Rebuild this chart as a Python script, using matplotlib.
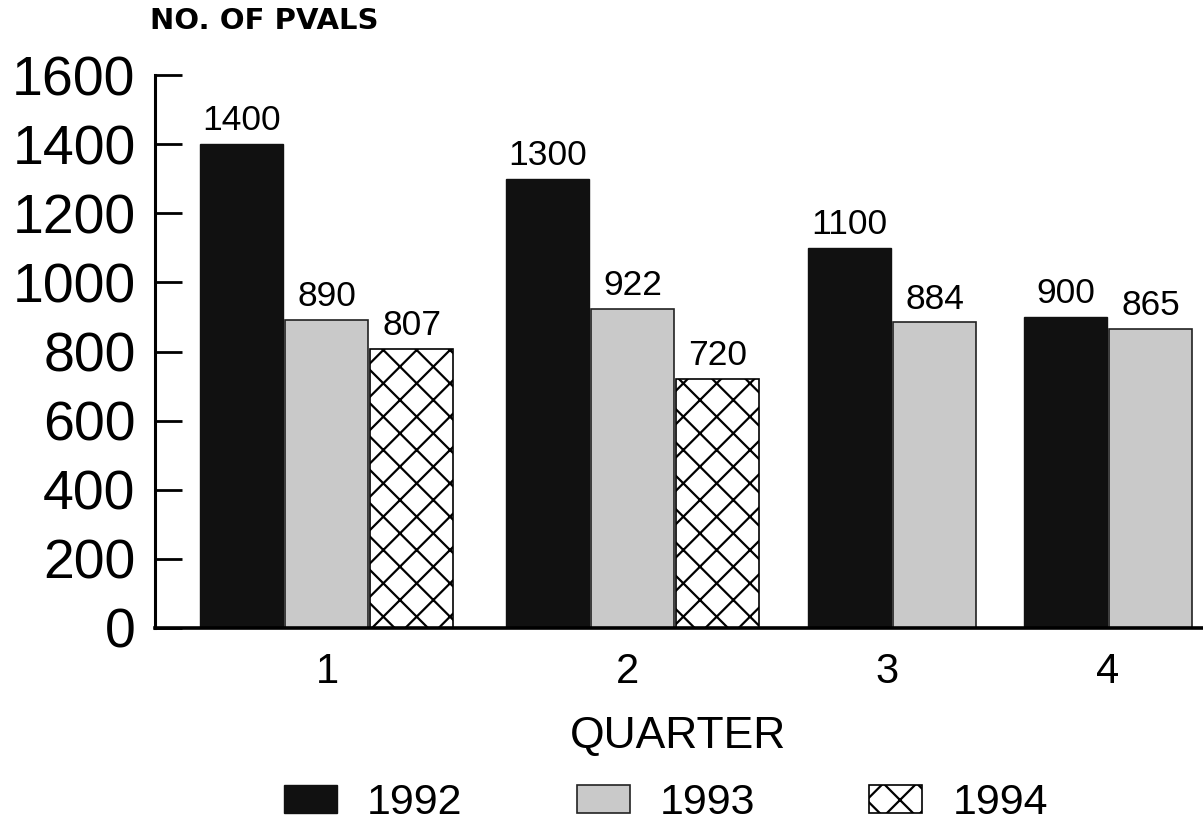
import matplotlib
matplotlib.use("Agg")
import matplotlib.pyplot as plt

# data
quarters = ["1", "2", "3", "4"]
years = ["1992", "1993", "1994"]
pvals_1992 = [1400, 1300, 1100, 900]
pvals_1993 = [890, 922, 884, 865]
pvals_1994 = [807, 720]          # only quarters 1 and 2 reported
y_ticks = [0, 200, 400, 600, 800, 1000, 1200, 1400, 1600]

# layout (x axis runs in pixel-like units so the uneven gaps can be kept)
group_left = [200, 506, 808, 1024]
bar_step = 85
bar_w = 83
quarter_pos = [327, 627, 887, 1108]

plt.rcParams['font.family'] = ['Liberation Sans', 'DejaVu Sans']
plt.rcParams['hatch.linewidth'] = 1.6

fig = plt.figure(figsize=(12.03, 8.22), dpi=100)
ax = fig.add_axes([155/1203, 1 - 628/822, 1 - 155/1203, (628 - 75)/822])

x92 = [g + bar_w/2 for g in group_left]
x93 = [g + bar_step + bar_w/2 for g in group_left]
x94 = [g + 2*bar_step + bar_w/2 for g in group_left[:len(pvals_1994)]]

b92 = ax.bar(x92, pvals_1992, width=bar_w, color='#111111', edgecolor='#111111',
             linewidth=1, label=years[0])
b93 = ax.bar(x93, pvals_1993, width=bar_w, color='#c9c9c9', edgecolor='#222222',
             linewidth=1.2, label=years[1])
b94 = ax.bar(x94, pvals_1994, width=bar_w, color='white', edgecolor='black',
             linewidth=1.2, hatch='x', label=years[2])

for bars in (b92, b93, b94):
    ax.bar_label(bars, padding=5, fontsize=25.5)

ax.set_xlim(155, 1203)
ax.set_ylim(0, 1600)
ax.set_yticks(y_ticks)
ax.set_xticks(quarter_pos, quarters)

ax.spines['top'].set_visible(False)
ax.spines['right'].set_visible(False)
ax.spines['left'].set_linewidth(2.2)
ax.spines['bottom'].set_linewidth(2.6)
ax.tick_params(axis='y', direction='in', length=19.5, width=2, labelsize=40, pad=14)
ax.tick_params(axis='x', length=0, labelsize=30, pad=17)

# axis titles
fig.text(150/1203, 1 - 21/822, "NO. OF PVALS", fontsize=21, fontweight='bold',
         family=['DejaVu Sans'], ha='left', va='center')
fig.text(678/1203, 1 - 736/822, "QUARTER", fontsize=32, ha='center', va='center')

fig.legend(handles=[b92, b93, b94], loc='center', bbox_to_anchor=(666/1203, 1 - 803/822),
           ncol=3, frameon=False, fontsize=31, handlelength=1.23, handleheight=0.63,
           handletextpad=0.7, columnspacing=2.65, borderpad=0, borderaxespad=0)

fig.savefig("out.png", dpi=100)
